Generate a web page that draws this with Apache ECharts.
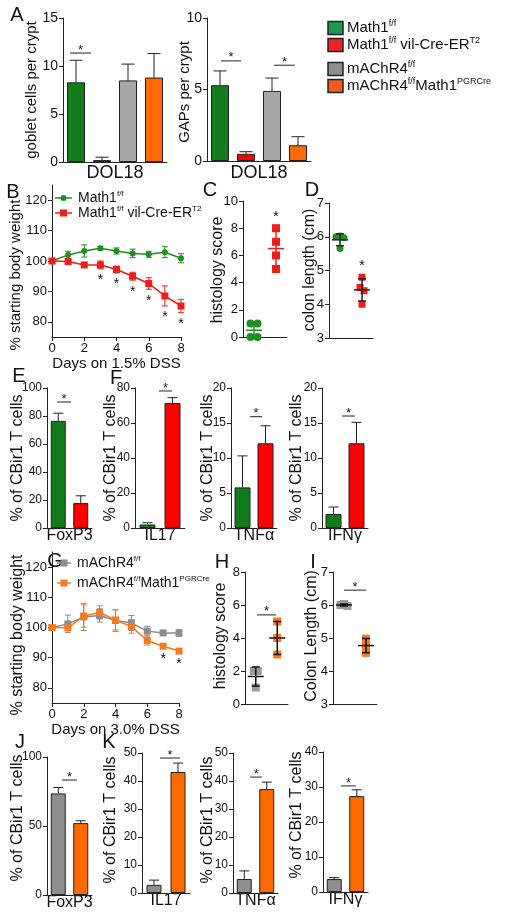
<!DOCTYPE html>
<html><head><meta charset="utf-8">
<script src="https://cdn.jsdelivr.net/npm/echarts@6/dist/echarts.min.js"></script>
<style>html,body{margin:0;padding:0;background:#fff}#c{width:512px;height:920px}</style>
</head><body><div id="c"></div>
<script>
// ================= DATA =================
const barGroups = ['Math1 f/f', 'Math1 f/f vil-Cre-ERT2', 'mAChR4 f/f', 'mAChR4 f/f Math1 PGRCre'];
const gobletPerCrypt = [8.3, 0.2, 8.5, 8.8];
const gobletPerCryptSem = [2.3, 0.3, 1.7, 2.5];
const gapsPerCrypt = [5.3, 0.5, 4.9, 1.1];
const gapsPerCryptSem = [1.0, 0.15, 0.9, 0.6];

const dssDays = [0, 1, 2, 3, 4, 5, 6, 7, 8];
const dayTicks = [0, 2, 4, 6, 8];
const weightTicks = [80, 90, 100, 110, 120];
const weightMath1 = [100, 102.0, 103.3, 104.2, 103.3, 102.5, 102.2, 102.9, 100.9];
const weightMath1Sem = [0.3, 1.2, 2.0, 0.6, 1.0, 1.4, 1.0, 1.8, 1.5];
const weightMath1Cre = [100, 99.8, 98.7, 98.7, 97.2, 95.0, 92.6, 88.5, 85.2];
const weightMath1CreSem = [0.3, 0.3, 0.8, 1.3, 1.1, 1.3, 1.9, 3.3, 2.2];
const starDaysB = [3, 4, 5, 6, 7, 8];

const histoMath1 = [1, 1, 0, 0];
const histoMath1Cre = [8, 7, 6, 5];
const colonMath1 = [6.0, 6.02, 5.97, 5.65];
const colonMath1Cre = [4.8, 4.5, 4.4, 4.0];

const cytokines = ['FoxP3', 'IL17', 'TNFα', 'IFNγ'];
const cbirMath1 = [76.5, 2.0, 5.8, 2.0];
const cbirMath1Sem = [5.5, 1.0, 4.5, 1.0];
const cbirMath1Cre = [17.8, 71.4, 12.1, 12.1];
const cbirMath1CreSem = [5.2, 3.1, 2.5, 3.0];
const sigRow1 = [90, 78.3, 15.9, 16];

const weightM4 = [100, 101.2, 103.5, 104.0, 102.3, 101.5, 98.8, 98.2, 98.2];
const weightM4Sem = [0.3, 2.9, 4.5, 2.2, 3.6, 2.5, 1.6, 0.8, 1.1];
const weightM4Pgr = [100, 99.9, 103.8, 105.0, 102.5, 100.3, 95.7, 93.8, 92.2];
const weightM4PgrSem = [0.3, 0.8, 3.7, 2.2, 3.3, 2.2, 1.5, 0.5, 0.5];
const starDaysG = [7, 8];

const histoM4 = [2, 2, 1];
const histoM4Pgr = [5, 4, 3];
const colonM4 = [6.0, 6.03, 5.97];
const colonM4Pgr = [4.98, 4.78, 4.55];

const cbirM4 = [73.6, 2.9, 5.0, 3.7];
const cbirM4Sem = [4.3, 1.7, 2.9, 0.4];
const cbirM4Pgr = [52.1, 43.2, 37.1, 27.4];
const cbirM4PgrSem = [1.7, 3.2, 2.5, 1.8];
const sigRow2 = [83.3, 48.2, 41.4, 30.3];

// ================= STYLE =================
const FONT = '"Liberation Sans", Arial, sans-serif';
const INK = '#111';
const AX = '#222';
const AXL = {show: true, onZero: false, lineStyle: {color: AX, width: 1}};
const GREEN = '#137c1a', RED = '#fe0000', GREY_A = '#a6a6ab', GREY = '#8e8e8e', ORANGE = '#ff6a00';

const grids = [], xAxes = [], yAxes = [], series = [], graphics = [];

function addGrid(g) {
  grids.push({left: g.left, top: g.top, width: g.width, height: g.height, containLabel: false, outerBoundsMode: 'none'});
  return grids.length - 1;
}
function valueY(min, max, interval, fs, custom) {
  const y = {type: 'value', min, max, axisLine: AXL,
    axisTick: {show: true, inside: false, length: 4, lineStyle: {color: AX}},
    axisLabel: {fontSize: fs, color: INK, fontFamily: FONT, margin: 5},
    splitLine: {show: false}};
  if (custom) { y.axisTick.customValues = custom; y.axisLabel.customValues = custom; }
  else y.interval = interval;
  return y;
}
function textStyle(text, size, align, va, extra) {
  return Object.assign({text, fontSize: size, fontFamily: FONT, fill: INK,
    align, verticalAlign: va, textAlign: align, textVerticalAlign: va}, extra || {});
}
function addText(x, y, text, size, rot, extra) {
  graphics.push({type: 'text', x, y, rotation: rot || 0, silent: true,
    style: textStyle(text, size, 'center', 'middle', extra)});
}
function addTextLeft(x, y, text, size, extra) {
  graphics.push({type: 'text', x, y, silent: true, style: textStyle(text, size, 'left', 'middle', extra)});
}

function errUp(cap) {
  return function (params, api) {
    const x = api.value(0), m = api.value(1), e = api.value(2);
    const p0 = api.coord([x, m]), p1 = api.coord([x, m + e]);
    const st = {stroke: AX, lineWidth: 1};
    return {type: 'group', children: [
      {type: 'line', shape: {x1: p0[0], y1: p0[1], x2: p1[0], y2: p1[1]}, style: st},
      {type: 'line', shape: {x1: p1[0] - cap / 2, y1: p1[1], x2: p1[0] + cap / 2, y2: p1[1]}, style: st}]};
  };
}
function errBoth(color, cap) {
  return function (params, api) {
    const x = api.value(0), m = api.value(1), e = api.value(2);
    const t = api.coord([x, m + e]), b = api.coord([x, m - e]);
    const st = {stroke: color, lineWidth: 1};
    return {type: 'group', children: [
      {type: 'line', shape: {x1: t[0], y1: t[1], x2: b[0], y2: b[1]}, style: st},
      {type: 'line', shape: {x1: t[0] - cap / 2, y1: t[1], x2: t[0] + cap / 2, y2: t[1]}, style: st},
      {type: 'line', shape: {x1: b[0] - cap / 2, y1: b[1], x2: b[0] + cap / 2, y2: b[1]}, style: st}]};
  };
}
function sigRender(a, b) {
  return function (params, api) {
    const y = api.value(2);
    const p0 = api.coord([api.value(0), y]), p1 = api.coord([api.value(1), y]);
    const x1 = p0[0] + (p1[0] - p0[0]) * a, x2 = p0[0] + (p1[0] - p0[0]) * b;
    return {type: 'group', children: [
      {type: 'line', shape: {x1, y1: p0[1], x2, y2: p0[1]}, style: {stroke: AX, lineWidth: 1}},
      {type: 'text', x: (x1 + x2) / 2, y: p0[1] - 3, style: textStyle('*', 13, 'center', 'middle')}]};
  };
}
function addSig(gi, from, to, y, a, b) {
  series.push({type: 'custom', xAxisIndex: gi, yAxisIndex: gi, clip: false, silent: true, z: 4,
    renderItem: sigRender(a, b), data: [[from, to, y]]});
}

function barPanel(cfg) {
  const gi = addGrid(cfg.grid);
  xAxes.push({gridIndex: gi, type: 'category', data: cfg.cats, axisLine: AXL, axisTick: {show: false},
    axisLabel: {show: false}, name: cfg.name, nameLocation: 'middle', nameGap: cfg.nameGap,
    nameTextStyle: {fontSize: cfg.nameFs, color: INK, fontFamily: FONT}});
  yAxes.push(Object.assign({gridIndex: gi}, valueY(cfg.yMin || 0, cfg.yMax, cfg.yInt, cfg.tickFs)));
  series.push({type: 'bar', xAxisIndex: gi, yAxisIndex: gi, barWidth: cfg.barWidth, silent: true,
    itemStyle: {borderColor: AX, borderWidth: 1},
    data: cfg.means.map((v, i) => ({value: v, itemStyle: {color: cfg.colors[i]}}))});
  series.push({type: 'custom', xAxisIndex: gi, yAxisIndex: gi, clip: false, silent: true, z: 3,
    renderItem: errUp(cfg.cap), data: cfg.means.map((v, i) => [i, v, cfg.sems[i]])});
  return gi;
}

function mean(a) { return a.reduce((s, v) => s + v, 0) / a.length; }
function sd(a) { const m = mean(a); return Math.sqrt(a.reduce((s, v) => s + (v - m) * (v - m), 0) / (a.length - 1)); }
function swarm(vals, ppu, size, step) {
  const off = vals.map(() => 0), used = vals.map(() => false);
  for (let i = 0; i < vals.length; i++) {
    if (used[i]) continue;
    const cl = [i]; used[i] = true;
    for (let j = i + 1; j < vals.length; j++)
      if (!used[j] && Math.abs(vals[j] - vals[i]) * ppu < size * 0.6) { cl.push(j); used[j] = true; }
    cl.forEach((k, n) => off[k] = (n - (cl.length - 1) / 2) * step);
  }
  return off;
}
function scatterPanel(cfg) {
  const gi = addGrid(cfg.grid);
  xAxes.push({gridIndex: gi, type: 'category', data: cfg.cats, axisLine: AXL, axisTick: {show: false}, axisLabel: {show: false}});
  yAxes.push(Object.assign({gridIndex: gi}, valueY(cfg.yMin, cfg.yMax, cfg.yInt, 13)));
  const ppu = cfg.grid.height / (cfg.yMax - cfg.yMin);
  const pts = [], stats = [];
  cfg.groups.forEach((g, ci) => {
    const off = swarm(g.vals, ppu, cfg.size, cfg.step);
    g.vals.forEach((v, k) => pts.push([ci, v, off[k]]));
    stats.push([ci, mean(g.vals), sd(g.vals)]);
  });
  const size = cfg.size;
  series.push({type: 'custom', xAxisIndex: gi, yAxisIndex: gi, clip: false, silent: true, z: 2,
    renderItem: function (params, api) {
      const ci = api.value(0), g = cfg.groups[ci];
      const p = api.coord([ci, api.value(1)]);
      const x = p[0] + api.value(2), y = p[1];
      if (g.shape === 'circle') return {type: 'circle', shape: {cx: x, cy: y, r: size / 2}, style: {fill: g.color}};
      return {type: 'rect', shape: {x: x - size / 2, y: y - size / 2, width: size, height: size}, style: {fill: g.color}};
    }, data: pts});
  series.push({type: 'custom', xAxisIndex: gi, yAxisIndex: gi, clip: false, silent: true, z: 3,
    renderItem: function (params, api) {
      const ci = api.value(0), g = cfg.groups[ci];
      const m = api.coord([ci, api.value(1)]);
      const t = api.coord([ci, api.value(1) + api.value(2)]), b = api.coord([ci, api.value(1) - api.value(2)]);
      const st = {stroke: g.lineColor, lineWidth: 1.5};
      const hw = 8, cw = 4;
      return {type: 'group', children: [
        {type: 'line', shape: {x1: m[0] - hw, y1: m[1], x2: m[0] + hw, y2: m[1]}, style: st},
        {type: 'line', shape: {x1: t[0], y1: t[1], x2: b[0], y2: b[1]}, style: st},
        {type: 'line', shape: {x1: t[0] - cw, y1: t[1], x2: t[0] + cw, y2: t[1]}, style: st},
        {type: 'line', shape: {x1: b[0] - cw, y1: b[1], x2: b[0] + cw, y2: b[1]}, style: st}]};
    }, data: stats});
  if (cfg.star) {
    const g = cfg.groups[cfg.star.group];
    series.push({type: 'custom', xAxisIndex: gi, yAxisIndex: gi, clip: false, silent: true, z: 4,
      renderItem: function (params, api) {
        const p = api.coord([api.value(0), api.value(1)]);
        return {type: 'text', x: p[0], y: p[1] - cfg.star.gap, style: textStyle('*', 15, 'center', 'middle')};
      }, data: [[cfg.star.group, Math.max.apply(null, g.vals)]]});
  }
  if (cfg.sig) addSig(gi, 0, 1, cfg.sig.y, cfg.sig.a, cfg.sig.b);
  return gi;
}

function linePanel(cfg) {
  const gi = addGrid(cfg.grid);
  xAxes.push({gridIndex: gi, type: 'value', min: 0, max: 8, interval: 2, axisLine: AXL,
    axisTick: {show: true, length: 4, lineStyle: {color: AX}},
    axisLabel: {fontSize: 13, color: INK, fontFamily: FONT, margin: 5},
    splitLine: {show: false}, name: cfg.xName, nameLocation: 'middle', nameGap: cfg.nameGap,
    nameTextStyle: {fontSize: 15, color: INK, fontFamily: FONT}});
  yAxes.push(Object.assign({gridIndex: gi}, valueY(75, 125, null, 13, weightTicks)));
  cfg.lines.forEach(l => {
    series.push({type: 'custom', xAxisIndex: gi, yAxisIndex: gi, clip: false, silent: true, z: 2,
      renderItem: errBoth(l.color, 6), data: dssDays.map((d, i) => [d, l.vals[i], l.sem[i]])});
    series.push({type: 'line', name: l.name, xAxisIndex: gi, yAxisIndex: gi, silent: true, z: 3,
      symbol: l.symbol, symbolSize: l.symbolSize, showAllSymbol: true,
      lineStyle: {color: l.color, width: 1.5}, itemStyle: {color: l.color},
      data: dssDays.map((d, i) => [d, l.vals[i]])});
  });
  const s = cfg.starLine;
  series.push({type: 'custom', xAxisIndex: gi, yAxisIndex: gi, clip: false, silent: true, z: 4,
    renderItem: function (params, api) {
      const p = api.coord([api.value(0), api.value(1)]);
      return {type: 'text', x: p[0], y: p[1] + 11.5, style: textStyle('*', 14, 'center', 'middle')};
    }, data: cfg.starDays.map(d => [d, s.vals[d] - s.sem[d]])});
  return gi;
}

// ---------- Panel A ----------
const colorsA = [GREEN, RED, GREY_A, ORANGE];
const a1 = barPanel({grid: {left: 63, top: 18, width: 104, height: 144}, cats: barGroups, name: 'DOL18', nameGap: 2, nameFs: 18,
  yMax: 15, yInt: 5, tickFs: 14, means: gobletPerCrypt, sems: gobletPerCryptSem, colors: colorsA, barWidth: 18, cap: 13});
addSig(a1, 0, 1, 11.35, -0.23, 0.58);
const a2 = barPanel({grid: {left: 207, top: 18, width: 104, height: 143}, cats: barGroups, name: 'DOL18', nameGap: 3, nameFs: 18,
  yMax: 10, yInt: 5, tickFs: 14, means: gapsPerCrypt, sems: gapsPerCryptSem, colors: colorsA, barWidth: 18, cap: 13});
addSig(a2, 0, 1, 7.0, 0.04, 0.81);
addSig(a2, 2, 3, 6.7, 0.08, 0.88);

// ---------- Panel B ----------
linePanel({grid: {left: 52, top: 185, width: 129, height: 152}, xName: 'Days on 1.5% DSS', nameGap: 10,
  lines: [
    {name: 'Math1 f/f', vals: weightMath1, sem: weightMath1Sem, color: '#1f8f1f', symbol: 'circle', symbolSize: 6},
    {name: 'Math1 f/f vil-Cre-ERT2', vals: weightMath1Cre, sem: weightMath1CreSem, color: '#ee1c1c', symbol: 'rect', symbolSize: 7}],
  starLine: {vals: weightMath1Cre, sem: weightMath1CreSem}, starDays: starDaysB});

// ---------- Panel C, D ----------
scatterPanel({grid: {left: 243, top: 201, width: 44, height: 136}, cats: barGroups.slice(0, 2), yMin: 0, yMax: 10, yInt: 2,
  size: 8, step: 7,
  groups: [{vals: histoMath1, color: '#1f8f1f', shape: 'circle', lineColor: '#1f8f1f'},
           {vals: histoMath1Cre, color: '#ee1c1c', shape: 'rect', lineColor: '#ee1c1c'}],
  star: {group: 1, gap: 11}});
scatterPanel({grid: {left: 329, top: 203, width: 44, height: 135}, cats: barGroups.slice(0, 2), yMin: 3, yMax: 7, yInt: 1,
  size: 7, step: 4,
  groups: [{vals: colonMath1, color: '#1f8f1f', shape: 'circle', lineColor: '#222'},
           {vals: colonMath1Cre, color: '#ee1c1c', shape: 'rect', lineColor: '#222'}],
  star: {group: 1, gap: 11}});

// ---------- Panel E, F ----------
const row1 = [
  {grid: {left: 47, top: 388, width: 45, height: 140}, yMax: 100, yInt: 20, barWidth: 15, a: -0.05, b: 0.57},
  {grid: {left: 135, top: 388, width: 50, height: 140}, yMax: 80, yInt: 20, barWidth: 16, a: 0.46, b: 0.98},
  {grid: {left: 231, top: 388, width: 46, height: 140}, yMax: 20, yInt: 5, barWidth: 16, a: 0.33, b: 0.85},
  {grid: {left: 322, top: 388, width: 46, height: 140}, yMax: 20, yInt: 5, barWidth: 16, a: 0.37, b: 0.93}];
row1.forEach((p, k) => {
  const gi = barPanel({grid: p.grid, cats: barGroups.slice(0, 2), name: cytokines[k], nameGap: 0, nameFs: 16,
    yMax: p.yMax, yInt: p.yInt, tickFs: 12, means: [cbirMath1[k], cbirMath1Cre[k]], sems: [cbirMath1Sem[k], cbirMath1CreSem[k]],
    colors: [GREEN, RED], barWidth: p.barWidth, cap: 10});
  addSig(gi, 0, 1, sigRow1[k], p.a, p.b);
});

// ---------- Panel G ----------
linePanel({grid: {left: 52, top: 552, width: 127, height: 151}, xName: 'Days on 3.0% DSS', nameGap: 14,
  lines: [
    {name: 'mAChR4 f/f', vals: weightM4, sem: weightM4Sem, color: '#8c8c8c', symbol: 'rect', symbolSize: 7},
    {name: 'mAChR4 f/f Math1 PGRCre', vals: weightM4Pgr, sem: weightM4PgrSem, color: '#f47b20', symbol: 'rect', symbolSize: 7}],
  starLine: {vals: weightM4Pgr, sem: weightM4PgrSem}, starDays: starDaysG});

// ---------- Panel H, I ----------
scatterPanel({grid: {left: 245, top: 572, width: 43, height: 132}, cats: barGroups.slice(2, 4), yMin: 0, yMax: 8, yInt: 2,
  size: 8, step: 4,
  groups: [{vals: histoM4, color: '#9a9a9a', shape: 'rect', lineColor: '#111'},
           {vals: histoM4Pgr, color: '#f47b20', shape: 'rect', lineColor: '#111'}],
  sig: {y: 5.4, a: 0.06, b: 0.94}});
scatterPanel({grid: {left: 333, top: 572, width: 44, height: 132}, cats: barGroups.slice(2, 4), yMin: 3, yMax: 7, yInt: 1,
  size: 8, step: 3.5,
  groups: [{vals: colonM4, color: '#9a9a9a', shape: 'rect', lineColor: '#111'},
           {vals: colonM4Pgr, color: '#f47b20', shape: 'rect', lineColor: '#111'}],
  sig: {y: 6.45, a: 0, b: 1}});

// ---------- Panel J, K ----------
const row2 = [
  {grid: {left: 47, top: 757, width: 45, height: 138}, yMax: 100, yInt: 50, a: 0.17, b: 0.83},
  {grid: {left: 142, top: 753, width: 48, height: 140}, yMax: 50, yInt: 10, a: 0.25, b: 1.08},
  {grid: {left: 233, top: 753, width: 45, height: 140}, yMax: 50, yInt: 10, a: 0.26, b: 0.8},
  {grid: {left: 323, top: 752, width: 45, height: 140}, yMax: 40, yInt: 10, a: 0.3, b: 0.96}];
row2.forEach((p, k) => {
  const gi = barPanel({grid: p.grid, cats: barGroups.slice(2, 4), name: cytokines[k], nameGap: 0, nameFs: 16,
    yMax: p.yMax, yInt: p.yInt, tickFs: 12, means: [cbirM4[k], cbirM4Pgr[k]], sems: [cbirM4Sem[k], cbirM4PgrSem[k]],
    colors: [GREY, ORANGE], barWidth: 15, cap: 10});
  addSig(gi, 0, 1, sigRow2[k], p.a, p.b);
});

// ---------- Titles, letters ----------
const R = Math.PI / 2;
addText(32, 90, 'goblet cells per crypt', 15, R);
addText(185, 92, 'GAPs per crypt', 15, R);
addText(16, 275, '% starting body weight', 15, R);
addText(218, 270, 'histology score', 16, R);
addText(310, 270, 'colon length (cm)', 16, R);
[18, 111, 208, 297].forEach(x => addText(x, 458, '% of CBir1 T cells', 16, R));
addText(18, 635, '% starting body weight', 16, R);
addText(221, 636, 'histology score', 16, R);
addText(312, 636, 'Colon Length (cm)', 16, R);
[[18, 818], [111, 820], [208, 820], [297, 815]].forEach(p => addText(p[0], p[1], '% of CBir1 T cells', 16, R));
[['A', 17, 15], ['B', 13, 192], ['C', 210, 190], ['D', 312, 190], ['E', 19, 376], ['F', 116, 378],
 ['G', 55, 561], ['H', 222, 562], ['I', 313, 562], ['J', 20, 742], ['K', 109, 742]].forEach(l => addText(l[1], l[2], l[0], 20, 0));

// ---------- Legends ----------
function rich(main, sup) {
  return {rich: {a: {fontSize: main, fontFamily: FONT, fill: INK, lineHeight: main + 2},
                 s: {fontSize: sup, fontFamily: FONT, fill: INK, verticalAlign: 'top', lineHeight: sup + 1}}};
}
const topLegend = [
  {color: '#1c9b48', text: '{a|Math1}{s|f/f}', y: 28},
  {color: '#ec2227', text: '{a|Math1}{s|f/f}{a| vil-Cre-ER}{s|T2}', y: 45},
  {color: '#8f8f8f', text: '{a|mAChR4}{s|f/f}', y: 69},
  {color: '#f15a22', text: '{a|mAChR4}{s|f/f}{a|Math1}{s|PGRCre}', y: 86}];
topLegend.forEach(l => {
  graphics.push({type: 'rect', shape: {x: 328, y: l.y - 6.5, width: 15, height: 13}, silent: true,
    style: {fill: l.color, stroke: '#222', lineWidth: 1.5}});
  addTextLeft(347, l.y, l.text, 15, rich(15, 9));
});
function lineLegend(x1, x2, y, color, marker, text) {
  graphics.push({type: 'line', shape: {x1, y1: y, x2, y2: y}, silent: true, style: {stroke: color, lineWidth: 1.5}});
  const cx = (x1 + x2) / 2;
  if (marker === 'circle') graphics.push({type: 'circle', shape: {cx, cy: y, r: 3}, silent: true, style: {fill: color}});
  else graphics.push({type: 'rect', shape: {x: cx - 3.5, y: y - 3.5, width: 7, height: 7}, silent: true, style: {fill: color}});
  addTextLeft(x2 + 6, y, text, 14, rich(14, 8));
}
lineLegend(55, 72, 198, '#1f8f1f', 'circle', '{a|Math1}{s|f/f}');
lineLegend(55, 72, 213, '#ee1c1c', 'rect', '{a|Math1}{s|f/f}{a| vil-Cre-ER}{s|T2}');
lineLegend(57, 71, 563, '#8c8c8c', 'rect', '{a|mAChR4}{s|f/f}');
lineLegend(57, 71, 583, '#f47b20', 'rect', '{a|mAChR4}{s|f/f}{a|Math1}{s|PGRCre}');

const chart = echarts.init(document.getElementById('c'), null, {renderer: 'canvas'});
chart.setOption({
  animation: false,
  backgroundColor: '#fff',
  textStyle: {fontFamily: FONT},
  grid: grids, xAxis: xAxes, yAxis: yAxes, series: series,
  graphic: {elements: graphics}
});
</script></body></html>
